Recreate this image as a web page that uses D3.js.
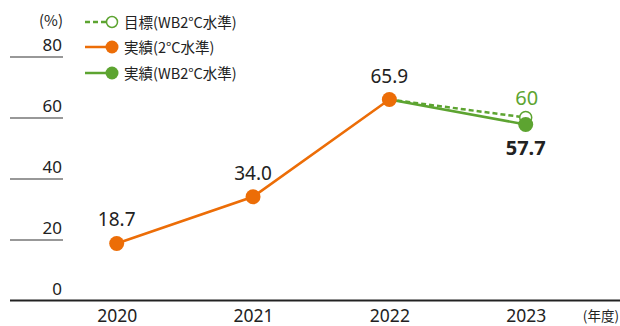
<!DOCTYPE html>
<html>
<head>
<meta charset="utf-8">
<script src="https://cdn.jsdelivr.net/npm/d3@7/dist/d3.min.js"></script>
<style>
  html, body { margin: 0; padding: 0; background: #fff; }
  svg { display: block; }
  text { font-family: "Noto Sans CJK JP", "Noto Sans", sans-serif; fill: #222; }
  .num { font-family: "Noto Sans", sans-serif; }
</style>
</head>
<body>
<svg id="chart" width="620" height="326"></svg>
<script>
// Fiscal years and ratio values (%)
const years = ["2020", "2021", "2022", "2023"];
const actual2C = [18.7, 34.0, 65.9, null];          // 実績(2°C水準)
const actualWB2C = [null, null, 65.9, 57.7];        // 実績(WB2°C水準)
const targetWB2C = [null, null, 65.9, 60];          // 目標(WB2°C水準)
const yTicks = [0, 20, 40, 60, 80];
const legendLabels = ["目標(WB2°C水準)", "実績(2°C水準)", "実績(WB2°C水準)"];

const ORANGE = "#ec6d07";
const GREEN = "#5da431";

const svg = d3.select("#chart");

const x = d3.scalePoint().domain(years).range([116.7, 525.7]);
const y = d3.scaleLinear().domain([0, 80]).range([300.5, 56.5]);

// Y-axis: short rule segments with labels above them
const yAxis = svg.append("g");
yTicks.filter(t => t > 0).forEach(t => {
  yAxis.append("line")
    .attr("x1", 10).attr("x2", 63)
    .attr("y1", y(t) + 0.5).attr("y2", y(t) + 0.5)
    .attr("stroke", "#333").attr("stroke-width", 1.2);
});
yTicks.forEach(t => {
  yAxis.append("text")
    .attr("class", "num")
    .attr("x", 62).attr("y", y(t) - 6)
    .attr("text-anchor", "end")
    .attr("font-size", 17)
    .text(t);
});
yAxis.append("text")
  .attr("x", 63).attr("y", 26)
  .attr("text-anchor", "end")
  .attr("font-size", 15)
  .text("(%)");

// Baseline
svg.append("line")
  .attr("x1", 10).attr("x2", 620)
  .attr("y1", y(0)).attr("y2", y(0))
  .attr("stroke", "#222").attr("stroke-width", 2);

// X-axis labels
const xAxis = d3.axisBottom(x).tickSize(0).tickPadding(0);
const gx = svg.append("g")
  .attr("transform", `translate(0,${y(0) + 21})`)
  .attr("font-size", null).attr("font-family", null)
  .call(xAxis);
gx.select(".domain").remove();
gx.selectAll("text")
  .attr("class", "num")
  .style("font-size", "17.5px")
  .style("font-family", "'Noto Sans', sans-serif")
  .attr("fill", "#222")
  .attr("dy", 0);
svg.append("text")
  .attr("x", 619).attr("y", 321)
  .attr("text-anchor", "end")
  .attr("font-size", 13.5)
  .text("(年度)");

const lineGen = d3.line()
  .defined(d => d.v !== null)
  .x(d => x(d.year))
  .y(d => y(d.v));

const toPts = arr => years.map((yr, i) => ({ year: yr, v: arr[i] }));

// Target (dashed) line
svg.append("path")
  .datum(toPts(targetWB2C))
  .attr("d", lineGen)
  .attr("fill", "none")
  .attr("stroke", GREEN)
  .attr("stroke-width", 2.5)
  .attr("stroke-dasharray", "5,3");

// Actual WB2°C line
svg.append("path")
  .datum(toPts(actualWB2C))
  .attr("d", lineGen)
  .attr("fill", "none")
  .attr("stroke", GREEN)
  .attr("stroke-width", 2.5);

// Actual 2°C line
svg.append("path")
  .datum(toPts(actual2C))
  .attr("d", lineGen)
  .attr("fill", "none")
  .attr("stroke", ORANGE)
  .attr("stroke-width", 2.5);

// Target marker (open circle)
svg.append("circle")
  .attr("cx", x("2023")).attr("cy", y(targetWB2C[3]))
  .attr("r", 6).attr("fill", "#fff")
  .attr("stroke", GREEN).attr("stroke-width", 1.5);

// Actual WB2°C marker
svg.append("circle")
  .attr("cx", x("2023")).attr("cy", y(actualWB2C[3]))
  .attr("r", 7.5).attr("fill", GREEN);

// Actual 2°C markers
svg.selectAll("circle.or")
  .data(toPts(actual2C).filter(d => d.v !== null))
  .enter().append("circle")
  .attr("class", "or")
  .attr("cx", d => x(d.year)).attr("cy", d => y(d.v))
  .attr("r", 7.5).attr("fill", ORANGE);

// Value labels
const fmt = d3.format(".1f");
toPts(actual2C).filter(d => d.v !== null).forEach(d => {
  svg.append("text")
    .attr("class", "num")
    .attr("x", x(d.year)).attr("y", y(d.v) - 17)
    .attr("text-anchor", "middle")
    .attr("font-size", 19)
    .text(fmt(d.v));
});
svg.append("text")
  .attr("class", "num")
  .attr("x", x("2023") + 1).attr("y", y(targetWB2C[3]) - 13)
  .attr("text-anchor", "middle")
  .attr("font-size", 20)
  .style("fill", GREEN)
  .text(targetWB2C[3]);
svg.append("text")
  .attr("class", "num")
  .attr("x", x("2023")).attr("y", y(actualWB2C[3]) + 30)
  .attr("text-anchor", "middle")
  .attr("font-size", 20)
  .attr("font-weight", "bold")
  .text(fmt(actualWB2C[3]));

// Legend
const legend = svg.append("g");
const legendY = [22, 47, 73];
// target
legend.append("line")
  .attr("x1", 85).attr("x2", 107).attr("y1", legendY[0]).attr("y2", legendY[0])
  .attr("stroke", GREEN).attr("stroke-width", 2.5).attr("stroke-dasharray", "5,3");
legend.append("circle")
  .attr("cx", 112).attr("cy", legendY[0]).attr("r", 5.5)
  .attr("fill", "#fff").attr("stroke", GREEN).attr("stroke-width", 1.5);
// actual 2°C
legend.append("line")
  .attr("x1", 85).attr("x2", 110).attr("y1", legendY[1]).attr("y2", legendY[1])
  .attr("stroke", ORANGE).attr("stroke-width", 2.5);
legend.append("circle")
  .attr("cx", 112).attr("cy", legendY[1]).attr("r", 6.5).attr("fill", ORANGE);
// actual WB2°C
legend.append("line")
  .attr("x1", 85).attr("x2", 110).attr("y1", legendY[2]).attr("y2", legendY[2])
  .attr("stroke", GREEN).attr("stroke-width", 2.5);
legend.append("circle")
  .attr("cx", 112).attr("cy", legendY[2]).attr("r", 6.5).attr("fill", GREEN);

legendLabels.forEach((lab, i) => {
  legend.append("text")
    .attr("x", 124).attr("y", legendY[i] + 5.5)
    .attr("font-size", 14.5)
    .text(lab);
});
</script>
</body>
</html>
